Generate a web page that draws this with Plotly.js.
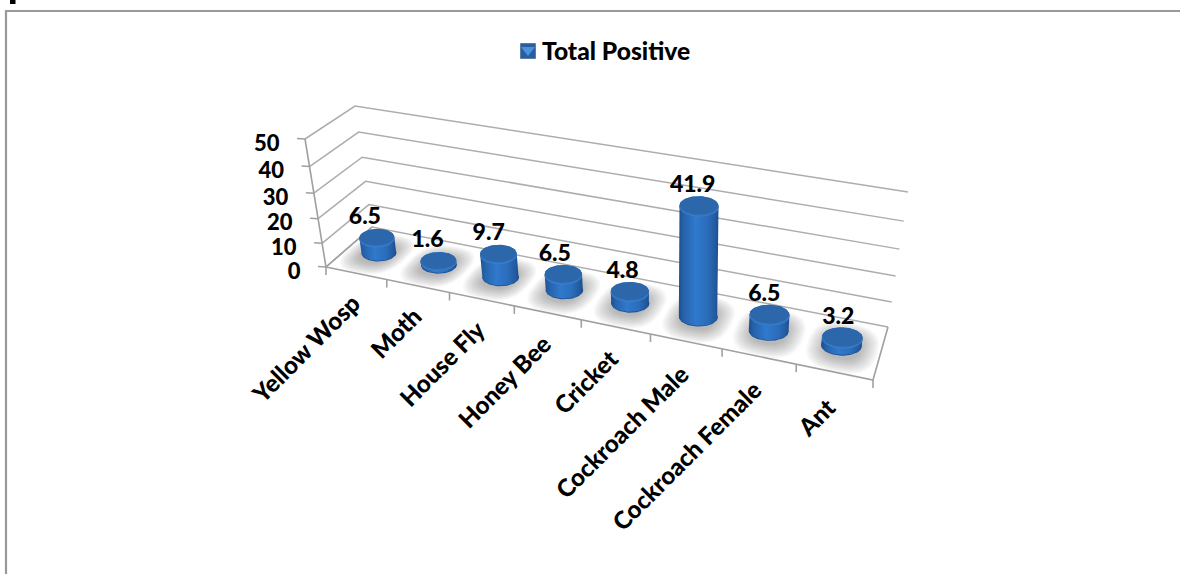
<!DOCTYPE html>
<html>
<head>
<meta charset="utf-8">
<script src="https://cdn.plot.ly/plotly-3.0.1.min.js"></script>
<style>html,body{margin:0;padding:0;background:#fff;overflow:hidden}#chart{width:1180px;height:574px}</style>
</head>
<body>
<div id="chart"></div>
<script>
const seriesName = "Total Positive";
const categories = ["Yellow Wosp","Moth","House Fly","Honey Bee","Cricket","Cockroach Male","Cockroach Female","Ant"];
const values = [6.5,1.6,9.7,6.5,4.8,41.9,6.5,3.2];
const heightTicks = [0,10,20,30,40,50];

const W = 1180, H = 574, FONT = "Lato, 'Open Sans', sans-serif", WORD_SIZE = 24.2, LEGEND_SIZE = 24.6, NUM_SIZE = 23, TICK_SIZE = 22, WEIGHT = 900;
const GRID = "#adadad", AXIS = "#a0a0a0";

// Oblique view: where the corners of the floor and of the top plane land on the page.
const floorQuad = [[326,267],[873,380],[888,327],[372,227]];
const topQuad   = [[305,139],[891,238],[908,192],[355,106]];

function quadMap(q){
  const [[x0,y0],[x1,y1],[x2,y2],[x3,y3]] = q;
  const dx1=x1-x2, dx2=x3-x2, sx=x0-x1+x2-x3, dy1=y1-y2, dy2=y3-y2, sy=y0-y1+y2-y3;
  const den=dx1*dy2-dx2*dy1, g=(sx*dy2-dx2*sy)/den, h=(dx1*sy-sx*dy1)/den;
  const a=x1-x0+g*x1, b=x3-x0+h*x3, d=y1-y0+g*y1, e=y3-y0+h*y3;
  return (u,v)=>{const k=g*u+h*v+1;return [(a*u+b*v+x0)/k,(d*u+e*v+y0)/k];};
}
const floorMap = quadMap(floorQuad), topMap = quadMap(topQuad);
const maxH = heightTicks[heightTicks.length-1], n = categories.length;

function project(u,v,w){
  const s=w/maxH, t=s/(1+0.1*(1-s));
  const a=floorMap(u,v), b=topMap(u,v);
  return [a[0]+(b[0]-a[0])*t, a[1]+(b[1]-a[1])*t];
}
function xs(p){return p.map(q=>q[0]);}
function ys(p){return p.map(q=>q[1]);}

const traces = [];
function polyline(pts,color,width){
  traces.push({type:"scatter",mode:"lines",x:xs(pts),y:ys(pts),line:{color,width},hoverinfo:"skip",showlegend:false});
}
function fillPoly(pts,fill,gradient){
  const t={type:"scatter",mode:"lines",x:xs(pts),y:ys(pts),fill:"toself",line:{width:0,color:"rgba(0,0,0,0)"},hoverinfo:"skip",showlegend:false};
  if(gradient) t.fillgradient=gradient; else t.fillcolor=fill;
  traces.push(t);
}

// Walls: one line per height tick along the side and along the back.
heightTicks.forEach(w=>{
  polyline([project(0,0,w),project(0,1,w),project(1,1,w)],GRID,1.5);
  const p=project(0,0,w);
  polyline([[p[0]-8,p[1]-0.5],p],AXIS,1.5);
});
polyline([project(0,0,0),project(0,0,maxH)],AXIS,1.6);
polyline([project(0,1,0),project(0,0,0),project(1,0,0),project(1,1,0)],AXIS,1.6);
for(let i=0;i<=n;i++){
  const p=project(i/n,0,0);
  polyline([p,[p[0],p[1]+8]],AXIS,1.6);
}

// Cylinders, each with a soft contact shadow under it. Rims are level ellipses that
// grow slightly toward the near end of the floor.
const CV=0.5, STEPS=72, ASPECT=0.48;
function ring(cu,w,scale){
  const c=project(cu,CV,w), rx=(17.3+3.2*cu)*scale, tilt=-0.03+0.06*cu, out=[];
  for(let k=0;k<=STEPS;k++){
    const a=2*Math.PI*k/STEPS;
    out.push([c[0]-2*cu+rx*Math.cos(a), c[1]+rx*tilt*Math.cos(a)+rx*ASPECT*Math.sin(a)]);
  }
  return out;
}
function shadow(cu){
  const layers=10;
  for(let l=0;l<layers;l++){
    const f=1-l/layers*0.55, su=0.058*f, sv=0.46*f, pts=[];
    for(let k=0;k<=48;k++){
      const a=2*Math.PI*k/48, c=Math.cos(a), s=Math.sin(a);
      pts.push(project(cu+su*Math.sign(c)*Math.pow(Math.abs(c),0.75),CV-0.03+sv*Math.sign(s)*Math.pow(Math.abs(s),0.75),0));
    }
    fillPoly(pts,"rgba(80,80,80,0.045)");
  }
}
function body(cu,w){
  const top=ring(cu,w,1), bot=ring(cu,0,1), half=STEPS/2, pts=[];
  for(let k=half;k<=STEPS;k++) pts.push(top[k]);   // upper arc of the top rim, left to right
  for(let k=0;k<=half;k++) pts.push(bot[k]);       // lower arc of the base, right to left
  pts.push(pts[0]);
  return pts;
}
const bodyScale=[[0,"#1c4f8e"],[0.12,"#2662aa"],[0.42,"#3079cd"],[0.72,"#2b6dba"],[0.92,"#215aa0"],[1,"#1c4d8a"]];
values.forEach((val,i)=>{
  const cu=(i+0.5)/n;
  shadow(cu);
  fillPoly(ring(cu,0,1).map(p=>[p[0],p[1]+0.8]),"#1d4e8b");
  fillPoly(body(cu,val),null,{type:"horizontal",colorscale:bodyScale});
  fillPoly(ring(cu,val,1).map(p=>[p[0],p[1]+1.8]),"#3a80cc");
  fillPoly(ring(cu,val,1).map(p=>[p[0],p[1]+0.9]),"#3273bb");
  fillPoly(ring(cu,val,0.98),"#2c67ab");
});

// Value labels above each cylinder.
const labelPts=values.map((val,i)=>{
  const u=(i+0.5)/n, p=project(u,CV,val);
  return [p[0]-12.5+7*u,p[1]-19];
});
traces.push({type:"scatter",mode:"text",x:xs(labelPts),y:ys(labelPts),text:values.map(v=>v.toFixed(1)),
  textposition:"middle center",textfont:{family:FONT,size:NUM_SIZE,color:"#000",weight:WEIGHT},hoverinfo:"skip",showlegend:false});

// Height tick labels, right-aligned against the side wall.
const tickPts=heightTicks.map(w=>{const p=project(0,0,w);return [p[0]-25.5,p[1]+6];});
traces.push({type:"scatter",mode:"text",x:xs(tickPts),y:ys(tickPts),text:heightTicks.map(String),
  textposition:"middle left",textfont:{family:FONT,size:TICK_SIZE,color:"#000",weight:WEIGHT},hoverinfo:"skip",showlegend:false});

// Legend key: a blue square with a lighter wedge on it, beside the legend text.
const keyAt=[[528],[51]];
traces.push({type:"scatter",mode:"markers",x:keyAt[0],y:keyAt[1],hoverinfo:"skip",showlegend:false,
  marker:{symbol:"square",size:15,color:"#2a5f9f",line:{color:"#1f4d85",width:0.5}}});
traces.push({type:"scatter",mode:"markers",x:keyAt[0],y:keyAt[1].map(v=>v-1),hoverinfo:"skip",showlegend:false,
  marker:{symbol:"triangle-down",size:12,color:"#4a93dc"}});
traces.push({type:"scatter",mode:"markers",x:[null],y:[null],name:seriesName,
  marker:{symbol:"square",size:1,color:"rgba(0,0,0,0)"}});

// Category labels at 45 degrees, ending just under the front edge.
const annotations=categories.map((c,i)=>{
  const u=(i+0.5)/n, p=project(u,0,0);
  return {x:p[0]+10.5-2*u,y:p[1]+13+5*u,xref:"x",yref:"y",text:c,showarrow:false,textangle:-45,
    xanchor:"right",yanchor:"top",font:{family:FONT,size:WORD_SIZE,color:"#000",weight:WEIGHT},borderpad:0};
});

const layout={
  width:W,height:H,margin:{l:0,r:0,t:0,b:0},paper_bgcolor:"#fff",plot_bgcolor:"#fff",
  xaxis:{range:[0,W],visible:false,fixedrange:true},
  yaxis:{range:[H,0],visible:false,fixedrange:true},
  showlegend:true,
  legend:{x:502/W,y:1-28/H,xanchor:"left",yanchor:"top",bgcolor:"rgba(0,0,0,0)",borderwidth:0,itemclick:false,itemdoubleclick:false,
    font:{family:FONT,size:LEGEND_SIZE,color:"#000",weight:WEIGHT}},
  annotations,
  shapes:[
    {type:"path",path:"M6,574 L6,11 L1180,11",xref:"x",yref:"y",line:{color:"#999",width:2.2},layer:"below"},
    {type:"rect",x0:10,x1:15.5,y0:0,y1:4,xref:"x",yref:"y",fillcolor:"#000",line:{width:0},layer:"below"}
  ]
};
Plotly.newPlot("chart",traces,layout,{displayModeBar:false,staticPlot:true});
</script>
</body>
</html>
